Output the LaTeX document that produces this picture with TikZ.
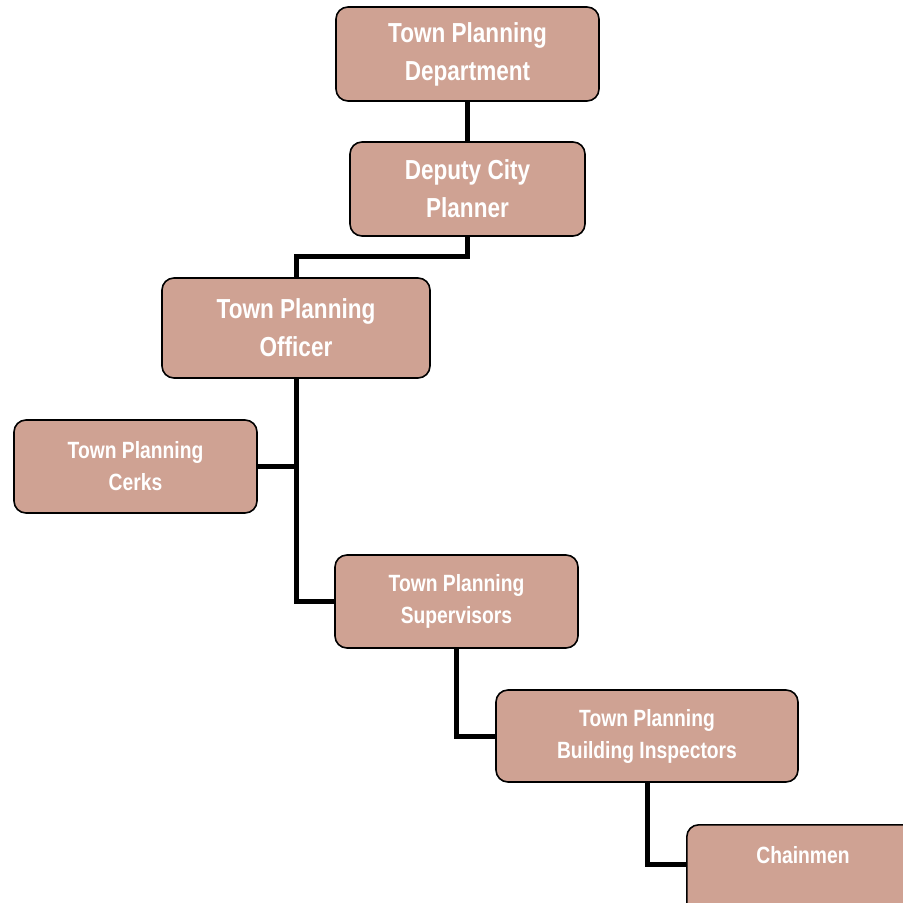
\documentclass[tikz,border=0pt]{standalone}
\usepackage{fontspec}
\setmainfont[FakeStretch=0.82]{Liberation Sans}
\definecolor{boxfill}{RGB}{207,162,147}
\tikzset{
  orgbox/.style={draw=black, line width=1.6pt, fill=boxfill, rounded corners=12pt,
    text=white, align=center, font=\bfseries\fontsize{27.5}{38}\selectfont, inner sep=0pt},
  smallbox/.style={orgbox, font=\bfseries\fontsize{23.5}{32}\selectfont},
  link/.style={draw=black, line width=5pt}
}
\begin{document}
\begin{tikzpicture}[x=1pt,y=-1pt]
\useasboundingbox (0,0) rectangle (903,903);
\fill[white] (0,0) rectangle (903,903);
\clip (0,0) rectangle (903,903);
\node[orgbox, minimum width=263pt, minimum height=94pt] (dept) at (467.5,54) {Town Planning\\Department};
\node[orgbox, minimum width=235pt, minimum height=94pt] (deputy) at (467.5,189) {Deputy City\\Planner};
\node[orgbox, minimum width=268pt, minimum height=100pt] (officer) at (296,328) {Town Planning\\Officer};
\node[smallbox, minimum width=243pt, minimum height=93pt] (clerks) at (135.5,466.5) {Town Planning\\Cerks};
\node[smallbox, minimum width=243pt, minimum height=93pt] (super) at (456.5,601.5) {Town Planning\\Supervisors};
\node[smallbox, minimum width=302pt, minimum height=92pt] (insp) at (647,736) {Town Planning\\Building Inspectors};
\node[smallbox, minimum width=234pt, minimum height=94pt, anchor=north west] (chain) at (686,824) {};
\node[text=white, font=\bfseries\fontsize{23.5}{32}\selectfont] (chaintext) at (803,855) {Chainmen};
\coordinate (j1) at (467.5,256.5);
\coordinate (j2) at (296,256.5);
\coordinate (j3) at (296,466.5);
\coordinate (j4) at (296,601.5);
\coordinate (j5) at (456.5,736);
\coordinate (j6) at (647,864);
\coordinate (j7) at (686,864);
\draw[link] (dept.south) -- (deputy.north);
\draw[link] (deputy.south) -- (j1) -- (j2) -- (officer.north);
\draw[link] (officer.south) -- (j4) -- (super.west);
\draw[link] (clerks.east) -- (j3);
\draw[link] (super.south) -- (j5) -- (insp.west);
\draw[link] (insp.south) -- (j6) -- (j7);
\end{tikzpicture}
\end{document}
